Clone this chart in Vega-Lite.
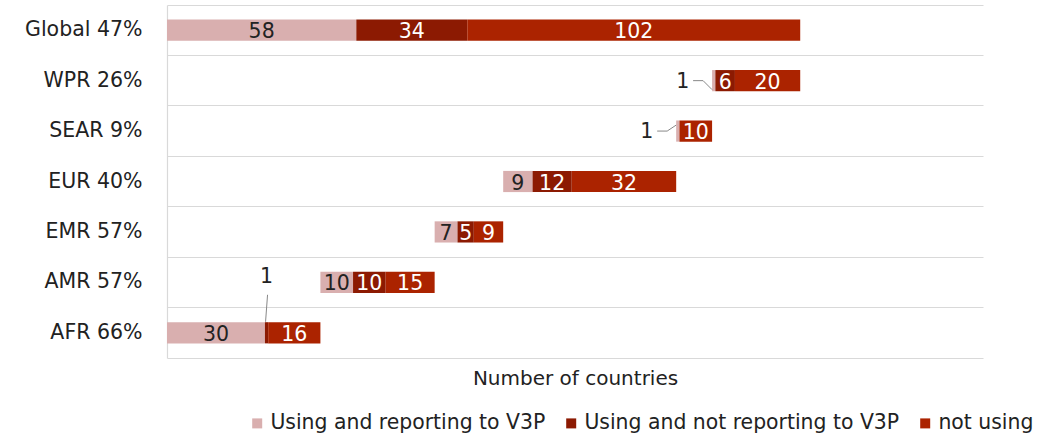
{
  "$schema": "https://vega.github.io/schema/vega-lite/v6.json",
  "autosize": "none",
  "padding": {"left": 167, "top": 5, "right": 73, "bottom": 79},
  "width": 816,
  "height": 353,
  "background": "white",
  "config": {
    "font": "DejaVu Sans",
    "view": {"stroke": null}
  },
  "data": {
    "values": [
      {"region": "Global 47%", "category": "Using and reporting to V3P", "count": 58, "start": 0, "end": 58},
      {"region": "Global 47%", "category": "Using and not reporting to V3P", "count": 34, "start": 58, "end": 92},
      {"region": "Global 47%", "category": "not using", "count": 102, "start": 92, "end": 194},
      {"region": "WPR 26%", "category": "Using and reporting to V3P", "count": 1, "start": 167, "end": 168},
      {"region": "WPR 26%", "category": "Using and not reporting to V3P", "count": 6, "start": 168, "end": 174},
      {"region": "WPR 26%", "category": "not using", "count": 20, "start": 174, "end": 194},
      {"region": "SEAR 9%", "category": "Using and reporting to V3P", "count": 1, "start": 156, "end": 157},
      {"region": "SEAR 9%", "category": "not using", "count": 10, "start": 157, "end": 167},
      {"region": "EUR 40%", "category": "Using and reporting to V3P", "count": 9, "start": 103, "end": 112},
      {"region": "EUR 40%", "category": "Using and not reporting to V3P", "count": 12, "start": 112, "end": 124},
      {"region": "EUR 40%", "category": "not using", "count": 32, "start": 124, "end": 156},
      {"region": "EMR 57%", "category": "Using and reporting to V3P", "count": 7, "start": 82, "end": 89},
      {"region": "EMR 57%", "category": "Using and not reporting to V3P", "count": 5, "start": 89, "end": 94},
      {"region": "EMR 57%", "category": "not using", "count": 9, "start": 94, "end": 103},
      {"region": "AMR 57%", "category": "Using and reporting to V3P", "count": 10, "start": 47, "end": 57},
      {"region": "AMR 57%", "category": "Using and not reporting to V3P", "count": 10, "start": 57, "end": 67},
      {"region": "AMR 57%", "category": "not using", "count": 15, "start": 67, "end": 82},
      {"region": "AFR 66%", "category": "Using and reporting to V3P", "count": 30, "start": 0, "end": 30},
      {"region": "AFR 66%", "category": "Using and not reporting to V3P", "count": 1, "start": 30, "end": 31},
      {"region": "AFR 66%", "category": "not using", "count": 16, "start": 31, "end": 47}
    ]
  },
  "transform": [{"calculate": "(datum.start + datum.end) / 2", "as": "mid"}],
  "encoding": {
    "y": {
      "field": "region",
      "type": "nominal",
      "sort": ["Global 47%", "WPR 26%", "SEAR 9%", "EUR 40%", "EMR 57%", "AMR 57%", "AFR 66%"],
      "scale": {"paddingInner": 0, "paddingOuter": 0},
      "axis": {
        "title": null,
        "bandPosition": 0,
        "labelOffset": 0,
        "ticks": false,
        "grid": true,
        "gridColor": "#d9d9d9",
        "gridWidth": 1.2,
        "domain": true,
        "domainColor": "#d9d9d9",
        "domainWidth": 1.2,
        "labelFontSize": 20.5,
        "labelColor": "#222222",
        "labelPadding": 25
      }
    }
  },
  "layer": [
    {
      "mark": {"type": "bar", "height": {"band": 0.42}},
      "encoding": {
        "x": {
          "field": "start",
          "type": "quantitative",
          "scale": {"domain": [0, 250], "nice": false},
          "axis": {
            "title": "Number of countries",
            "labels": false,
            "ticks": false,
            "grid": false,
            "domain": true,
            "domainColor": "#d9d9d9",
            "domainWidth": 1.2,
            "titleFontSize": 20,
            "titleFontWeight": "normal",
            "titleColor": "#222222",
            "titlePadding": 10
          }
        },
        "x2": {"field": "end"},
        "color": {
          "field": "category",
          "type": "nominal",
          "scale": {
            "domain": ["Using and reporting to V3P", "Using and not reporting to V3P", "not using"],
            "range": ["#d9afaf", "#8c1a02", "#ab2300"]
          },
          "legend": {
            "title": null,
            "orient": "none",
            "direction": "horizontal",
            "legendX": 80,
            "legendY": 408,
            "symbolType": "square",
            "symbolSize": 100,
            "symbolStrokeWidth": 0,
            "labelFontSize": 20.4,
            "labelLimit": 0,
            "labelColor": "#222222",
            "columnPadding": 15,
            "labelOffset": 3
          }
        }
      }
    },
    {
      "transform": [{"filter": "datum.count > 1"}],
      "mark": {"type": "text", "fontSize": 20.5, "baseline": "middle", "dy": 2},
      "encoding": {
        "x": {"field": "mid", "type": "quantitative"},
        "text": {"field": "count", "type": "quantitative"},
        "color": {
          "condition": {"test": "datum.category === 'Using and reporting to V3P'", "value": "#222222"},
          "value": "#ffffff"
        }
      }
    },
    {
      "transform": [{"filter": "datum.count == 1 && datum.region === 'AFR 66%'"}],
      "mark": {"type": "text", "fontSize": 20.5, "baseline": "middle", "dy": -56, "color": "#222222"},
      "encoding": {
        "x": {"field": "mid", "type": "quantitative"},
        "text": {"field": "count", "type": "quantitative"}
      }
    },
    {
      "transform": [{"filter": "datum.count == 1 && datum.region === 'AFR 66%'"}],
      "mark": {"type": "rule", "color": "#888888", "strokeWidth": 1, "yOffset": -38, "y2Offset": -11, "xOffset": 1, "x2Offset": -1},
      "encoding": {
        "x": {"field": "mid", "type": "quantitative"},
        "x2": {"field": "mid"},
        "y2": {"field": "region"}
      }
    },
    {
      "transform": [{"filter": "datum.count == 1 && datum.region !== 'AFR 66%'"}],
      "mark": {"type": "text", "fontSize": 20.5, "baseline": "middle", "dy": 1, "dx": -31, "color": "#222222"},
      "encoding": {
        "x": {"field": "mid", "type": "quantitative"},
        "text": {"field": "count", "type": "quantitative"}
      }
    },
    {
      "transform": [{"filter": "datum.count == 1 && datum.region !== 'AFR 66%'"}],
      "mark": {"type": "rule", "color": "#888888", "strokeWidth": 1, "xOffset": -19, "x2Offset": -9},
      "encoding": {
        "x": {"field": "start", "type": "quantitative"},
        "x2": {"field": "start"}
      }
    },
    {
      "transform": [{"filter": "datum.region === 'WPR 26%' && datum.count == 1"}],
      "mark": {"type": "rule", "color": "#888888", "strokeWidth": 1, "xOffset": -9, "x2Offset": 0, "yOffset": 0, "y2Offset": 9},
      "encoding": {
        "x": {"field": "start", "type": "quantitative"},
        "x2": {"field": "start"},
        "y2": {"field": "region"}
      }
    },
    {
      "transform": [{"filter": "datum.region === 'SEAR 9%' && datum.count == 1"}],
      "mark": {"type": "rule", "color": "#888888", "strokeWidth": 1, "xOffset": -9, "x2Offset": 0, "yOffset": 0, "y2Offset": -6},
      "encoding": {
        "x": {"field": "start", "type": "quantitative"},
        "x2": {"field": "start"},
        "y2": {"field": "region"}
      }
    }
  ]
}
